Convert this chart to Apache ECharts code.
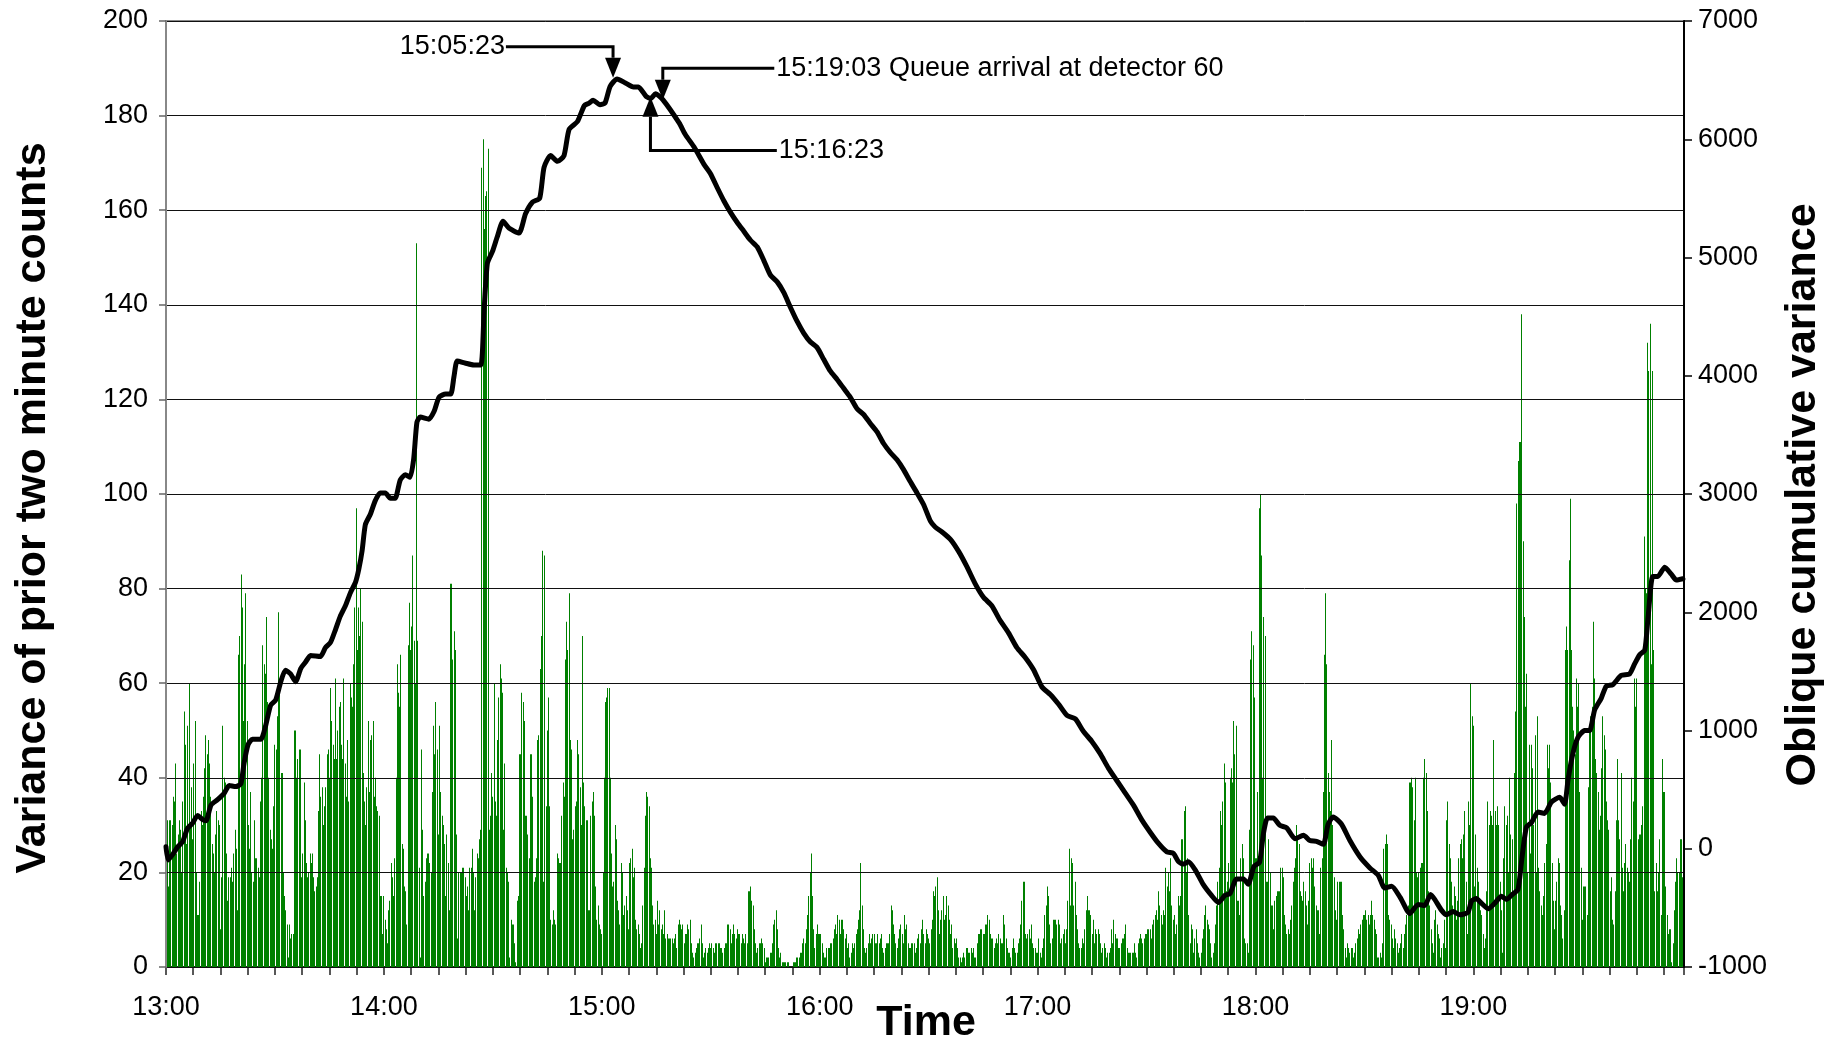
<!DOCTYPE html>
<html><head><meta charset="utf-8">
<script src="https://cdn.jsdelivr.net/npm/echarts@6/dist/echarts.min.js"></script>
<style>html,body{margin:0;padding:0;background:#fff}#c{width:1847px;height:1045px}</style>
</head><body><div id="c"></div>
<script>
// ---- data: variance of prior two minute counts, one bar every 20 s, one array per clock hour ----
const bars13 = [34,31,17,31,31,30,36,35,43,24,28,31,29,20,35,54,47,26,51,60,30,38,27,43,52,20,11,11,18,33,30,36,42,49,45,48,43,36,26,24,20,28,33,31,30,8,19,51,40,39,24,14,19,19,21,18,24,29,25,12,66,70,83,76,52,64,79,52,30,25,37,20,18,31,23,23,21,19,35,40,68,64,62,74,56,40,29,27,25,34,47,46,53,75,58,41,41,20,15,12,9,2,9,6,7,7,50,50,40,44,46,46,19,24,39,31,22,19,20,24,22,24,19,16,17,19,33,45,36,38,30,34,38,45,46,40,59,52,47,44,61,44,50,55,56,47,44,61,43,36,48,35,60,57,55,64,76,97,67,76,70,80,73,41,35,30,38,52,37,48,49,52,36,40,34,33,32,15,15,7];
const bars14 = [15,10,8,5,12,14,22,19,15,23,40,64,58,55,66,26,25,17,16,9,68,77,67,72,87,69,60,153,69,21,2,46,29,15,18,23,24,24,22,20,37,51,45,56,46,28,51,37,32,30,26,15,28,22,12,81,81,65,71,67,28,6,20,20,20,21,21,19,15,17,12,21,21,25,20,12,19,24,23,27,29,169,175,156,163,164,173,29,32,41,36,60,35,32,48,57,64,61,58,29,43,21,20,18,2,10,9,9,5,1,14,15,45,45,58,56,52,32,32,28,23,45,45,36,18,19,23,48,49,63,70,88,18,87,34,50,57,34,10,9,12,10,9,24,23,22,22,32,39,36,65,73,67,79,48,46,27,29,34,35,48,45,38,30,70,39,34,31,31,12,12,32,35,37,32,17,10,13,9,8];
const bars15 = [7,20,40,56,57,59,59,40,24,17,18,30,27,14,12,9,22,20,11,13,15,12,8,22,23,25,19,21,10,8,9,7,4,5,13,21,32,37,36,34,23,21,13,9,10,7,14,9,12,8,9,7,12,6,7,6,6,6,6,5,6,7,4,9,10,9,8,9,5,7,7,9,8,10,5,3,2,3,4,5,5,6,9,5,2,3,4,3,4,5,4,5,4,3,5,5,5,5,4,4,3,4,5,5,9,9,8,5,7,9,7,6,8,7,7,5,7,6,5,7,5,16,16,17,14,13,8,5,3,4,5,5,6,5,4,1,2,2,2,3,3,5,9,10,12,8,4,2,3,1,1,1,1,1,1,0,0,0,1,1,1,2,2,2,3,3,5,6,5,8,11,15,20,24,15,8,4,7,9,7];
const bars16 = [7,7,5,3,2,2,4,4,4,5,5,6,8,9,7,11,10,7,10,10,8,6,7,4,5,2,3,5,4,5,7,8,10,12,22,13,8,4,3,4,5,7,5,6,7,7,5,5,7,5,6,7,4,3,4,5,5,5,7,13,12,9,7,5,4,6,8,9,7,5,11,8,9,5,4,4,5,5,5,3,4,6,7,5,8,10,7,5,8,7,6,5,8,10,16,15,17,19,12,7,10,12,15,10,11,15,13,10,7,9,4,6,5,6,4,2,2,1,2,3,2,4,4,3,3,4,3,4,2,2,5,7,7,8,8,7,7,9,9,11,10,7,6,6,4,5,6,5,7,6,5,5,11,9,6,4,3,3,2,4,6,4,3,3,5,6,9,14,18,18,7,6,7,8,6,9,5,4,4,3];
const bars17 = [3,6,3,2,4,6,11,13,17,15,9,5,6,10,10,10,9,10,9,5,6,7,8,5,8,14,25,13,23,22,13,18,11,8,5,4,4,6,5,8,12,15,12,12,11,7,10,5,8,7,8,7,5,3,4,5,4,2,3,3,4,8,5,10,7,6,6,4,4,5,6,6,7,9,4,3,3,3,3,3,5,3,2,5,6,7,6,5,6,7,7,8,8,8,6,9,10,11,12,10,16,13,11,9,12,11,21,17,20,16,23,13,10,11,7,9,15,13,15,27,27,33,34,20,23,11,5,9,8,3,6,8,5,3,2,3,6,8,11,13,10,9,8,5,2,3,5,9,13,18,21,33,30,35,43,39,16,18,22,40,42,39,52,45,51,14,14,11,23,26,23,6,5,5,3,29,65,71,68,57];
const bars18 = [23,23,37,97,100,87,40,74,70,18,18,27,20,13,13,8,14,15,16,16,16,21,21,19,11,9,7,8,7,10,13,18,21,23,30,27,26,16,15,14,18,16,13,9,14,22,23,21,23,17,13,12,12,7,21,23,37,66,79,64,41,37,33,48,30,19,12,10,18,18,18,18,11,8,4,2,5,4,3,4,4,2,3,5,6,8,7,9,10,11,11,12,10,11,9,11,14,11,10,8,7,2,2,3,2,5,25,26,28,26,11,10,9,6,4,8,6,5,3,4,5,7,4,7,9,11,13,39,39,40,38,31,40,20,19,20,21,22,22,40,44,41,33,16,13,8,5,3,10,12,9,7,6,2,4,5,10,4,31,35,26,23,18,13,17,15,10,14,23,26,27,23,28,33,18,7,35,30,60,53];
const bars19 = [51,17,28,21,18,14,12,11,7,4,6,16,35,30,33,32,30,48,33,30,34,30,18,12,3,23,34,30,32,20,40,28,27,15,41,54,98,107,111,111,138,90,74,55,62,20,47,24,47,42,30,49,20,53,21,16,13,11,15,22,26,47,42,47,39,22,14,8,14,18,23,22,13,11,6,12,67,72,67,86,99,67,55,50,45,61,55,60,37,21,10,17,17,17,11,38,51,53,55,73,61,44,41,37,29,32,42,53,49,46,35,31,29,16,19,10,9,16,31,44,31,27,41,21,16,22,26,21,20,18,27,40,35,61,55,61,27,28,28,30,34,91,80,79,132,126,136,64,126,67,16,22,16,20,27,11,44,37,37,17,11,7,8,8,1,5,12,18,23,20,20,27,27,19];

// ---- oblique cumulative variance: minutes after 13:00 and values ----
const lineMinutes = [0,0.6,1.8,3.2,4.6,5.9,7.3,8.7,10.1,11,12.4,14.2,16,17.4,19.2,20.6,21.5,22.6,23.8,26.1,27.4,28.8,30.2,31.6,32.9,34.3,35.7,37.1,38.4,39.8,42.5,43.9,45.3,46.7,48,49.4,50.8,52.2,53.1,54,54.9,56.3,57.6,59,60.4,61.8,63.1,64.5,65.9,67.2,68.2,69.1,70,72.4,73.8,75.2,77,78.4,79.3,80.2,82.5,84.8,86.7,87.6,88.5,89.9,91.2,92.8,94.5,97.2,99,100.9,102.9,104.1,105.9,107.8,109.6,111,113.3,115.2,116.5,117.6,119.5,120.9,122.3,124.2,126.5,128.7,130.1,132.2,133.5,134.8,136.8,141.3,143,145.5,148.1,149.9,151.8,153.6,155.4,157.3,159.1,160.9,162.8,164.6,166.4,168.3,170.1,171.9,173.8,175.6,177.4,179.3,181.1,182.9,184.8,186.6,188.4,190.3,192.1,193.9,195.8,197.6,199.4,201.3,203.1,204.9,206.8,208.6,210.5,211.8,213.7,216,218.3,220.5,222.8,225.1,227.4,229.7,232,234.3,236.6,238.9,241.2,243.5,245.8,248.1,250.4,252.6,254.9,257.2,259.5,261.8,264.1,266.4,268.7,271,273.3,275.6,277.4,278.8,280.2,281.5,283.4,285.6,287.9,289.8,291.6,293,294.8,296.7,298,299.6,301.1,302.2,303.3,304.9,306.7,308.6,310.9,313.2,315,316.8,318.7,320,321.4,323.7,326,328.8,331.5,333.8,335.6,337.5,339.8,342.5,344.8,346.6,348.2,349.4,351.2,352.6,354.4,356.3,358.5,359.5,360.8,362.2,364.1,365.9,367.7,369.1,370.9,372.3,373.4,374.6,376,377.8,379.6,381.5,383.8,385.1,386.1,387.4,388.8,390.6,392,393.4,395.2,396.6,398.4,400.7,403,404.4,405.8,407.2,408.1,409.4,410.8,412.7,414.5,415.9,417.7];
const lineValues = [16,-95,-50,16,60,171,215,282,246,237,370,415,468,535,526,548,725,880,925,925,1036,1213,1258,1413,1510,1479,1413,1524,1577,1634,1625,1701,1745,1856,1967,2055,2166,2255,2365,2520,2742,2831,2942,3008,3008,2964,2964,3119,3163,3141,3296,3607,3651,3633,3697,3820,3845,3845,3993,4125,4106,4091,4091,4558,4952,5051,5173,5306,5247,5207,5370,5468,5502,5763,5862,5813,5862,6083,6150,6285,6305,6330,6292,6307,6447,6510,6476,6442,6442,6363,6345,6385,6335,6138,6040,5930,5790,5710,5590,5480,5384,5296,5222,5148,5089,4976,4853,4794,4705,4582,4459,4361,4287,4238,4139,4041,3968,3894,3820,3721,3672,3599,3525,3427,3353,3289,3206,3107,3009,2911,2770,2721,2679,2617,2513,2388,2242,2126,2055,1930,1826,1701,1618,1514,1368,1305,1222,1127,1098,993,910,806,682,577,473,369,244,140,45,-26,-39,-109,-130,-110,-178,-301,-394,-455,-394,-378,-255,-255,-301,-147,-116,130,260,260,198,177,84,115,69,63,38,207,269,207,69,-70,-162,-224,-332,-317,-409,-548,-471,-480,-387,-430,-519,-558,-530,-558,-538,-441,-421,-460,-507,-460,-402,-429,-382,-343,-71,182,221,310,299,396,435,376,591,805,941,999,999,1174,1272,1376,1388,1466,1478,1563,1641,1680,1953,2303,2303,2381,2322,2272,2283];

const xTickLabels = ['13:00','14:00','15:00','16:00','17:00','18:00','19:00'];

// annotations: arrow tip (minute, right-axis value), elbow level, text anchor minute
const annotations = [
  {text:'15:05:23', tipM:123.1, tipV:6520, levelV:6783, textM:93.6, textSide:'left'},
  {text:'15:19:03 Queue arrival at detector 60', tipM:136.8, tipV:6335, levelV:6600, textM:167.5, textSide:'right'},
  {text:'15:16:23', tipM:133.4, tipV:6360, levelV:5905, textM:168.2, textSide:'right'}
];

const FONT = '"Liberation Sans", Arial, sans-serif';
const barHours = [bars13, bars14, bars15, bars16, bars17, bars18, bars19];
const barData = [];
barHours.forEach((arr, h) => arr.forEach((v, i) => barData.push([h * 60 + i / 3, v])));
const lineData = lineMinutes.map((m, i) => [m, lineValues[i]]);

const chart = echarts.init(document.getElementById('c'), null, {renderer: 'canvas'});
chart.setOption({
  animation: false,
  grid: {left: 166, right: 163, top: 21, bottom: 78, show: true, borderColor: '#888', borderWidth: 2, backgroundColor: 'transparent'},
  xAxis: {
    type: 'value', min: 0, max: 418, interval: 7.5,
    axisLine: {show: true, onZero: false, lineStyle: {color: '#222', width: 2}},
    axisTick: {show: true, length: 8, lineStyle: {color: '#222', width: 1.5}},
    axisLabel: {margin: 27, fontSize: 27, color: '#000', fontFamily: FONT,
      formatter: v => (Math.abs(v % 60) < 1e-6 && v / 60 < xTickLabels.length) ? xTickLabels[Math.round(v / 60)] : ''},
    splitLine: {show: false}
  },
  yAxis: [
    {type: 'value', min: 0, max: 200, interval: 20, position: 'left', z: 3,
      axisLine: {show: true, lineStyle: {color: '#888', width: 2}},
      axisTick: {show: true, length: 7, lineStyle: {color: '#666', width: 1.5}},
      axisLabel: {margin: 18, fontSize: 27, color: '#000', fontFamily: FONT},
      splitLine: {show: true, lineStyle: {color: '#111', width: 1}}},
    {type: 'value', min: -1000, max: 7000, interval: 1000, position: 'right', z: 3,
      axisLine: {show: true, lineStyle: {color: '#000', width: 2}},
      axisTick: {show: true, length: 8, lineStyle: {color: '#000', width: 1.5}},
      axisLabel: {margin: 14, fontSize: 27, color: '#000', fontFamily: FONT, formatter: v => String(v)},
      splitLine: {show: false}}
  ],
  series: [
    {type: 'custom', data: barData, xAxisIndex: 0, yAxisIndex: 0, z: 2, silent: true, clip: true,
      encode: {x: 0, y: 1},
      renderItem: (params, api) => {
        const top = api.coord([api.value(0), api.value(1)]);
        const base = api.coord([api.value(0), 0]);
        return {type: 'rect', shape: {x: Math.floor(top[0]), y: top[1], width: 1, height: base[1] - top[1]},
          style: {fill: '#008000'}};
      }},
    {type: 'line', data: lineData, xAxisIndex: 0, yAxisIndex: 1, z: 5, showSymbol: false, smooth: 0.2,
      lineStyle: {color: '#000', width: 5, join: 'round', cap: 'round'}, silent: true}
  ]
});

const g = [];
const toPx = (m, v) => chart.convertToPixel({xAxisIndex: 0, yAxisIndex: 1}, [m, v]);
annotations.forEach(a => {
  const tip = toPx(a.tipM, a.tipV);
  const lvl = toPx(a.tipM, a.levelV);
  const tx = toPx(a.textM, a.levelV);
  const down = tip[1] > lvl[1] ? 1 : -1;
  const headLen = 20, half = 8;
  const base = tip[1] - down * headLen;
  g.push({type: 'polyline', z: 20, shape: {points: [[tx[0], lvl[1]], [tip[0], lvl[1]], [tip[0], base]]},
    style: {stroke: '#000', lineWidth: 3, fill: null}});
  g.push({type: 'polygon', z: 20, shape: {points: [[tip[0], tip[1]], [tip[0] - half, base], [tip[0] + half, base]]},
    style: {fill: '#000'}});
  const al = a.textSide === 'left' ? 'right' : 'left';
  g.push({type: 'text', z: 20, x: tx[0] + (a.textSide === 'left' ? -1 : 2), y: lvl[1],
    style: {text: a.text, font: '27px ' + FONT, fill: '#000', textAlign: al, align: al, textVerticalAlign: 'middle', verticalAlign: 'middle'}});
});
g.push({type: 'text', z: 20, x: 33, y: 508, rotation: Math.PI / 2,
  style: {text: 'Variance of prior two minute counts', font: 'bold 43px ' + FONT, fill: '#000', textAlign: 'center', align: 'center', textVerticalAlign: 'middle', verticalAlign: 'middle'}});
g.push({type: 'text', z: 20, x: 1803, y: 495, rotation: Math.PI / 2,
  style: {text: 'Oblique cumulative variance', font: 'bold 43px ' + FONT, fill: '#000', textAlign: 'center', align: 'center', textVerticalAlign: 'middle', verticalAlign: 'middle'}});
g.push({type: 'text', z: 20, x: 926, y: 1023,
  style: {text: 'Time', font: 'bold 43px ' + FONT, fill: '#000', textAlign: 'center', align: 'center', textVerticalAlign: 'middle', verticalAlign: 'middle'}});
chart.setOption({graphic: g});
</script>
</body></html>
